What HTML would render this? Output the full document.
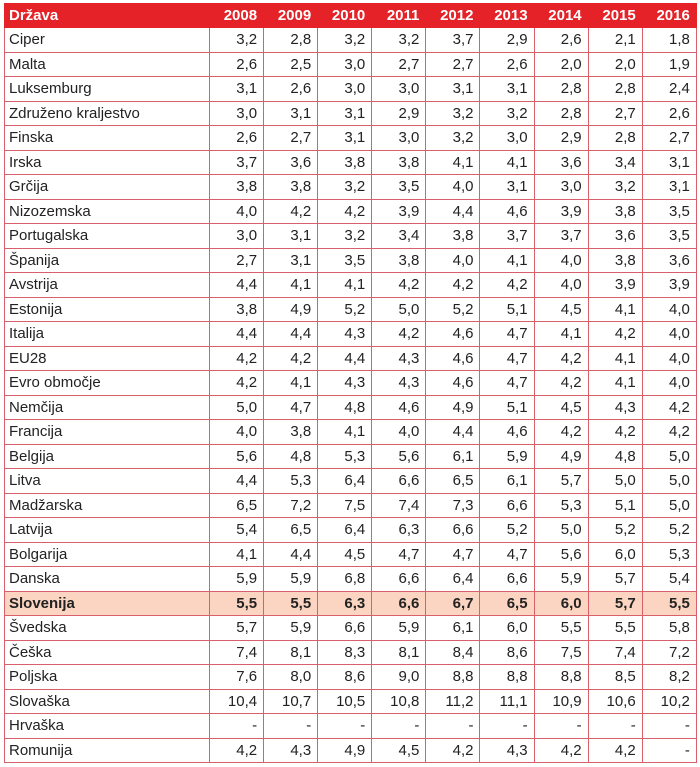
<!DOCTYPE html>
<html><head><meta charset="utf-8"><style>
html,body{margin:0;padding:0;background:#fff;width:700px;height:767px;overflow:hidden}
table{position:absolute;left:4px;top:3px;border-collapse:collapse;font-family:"Liberation Sans",sans-serif;font-size:15px;color:#222;table-layout:fixed;width:692px}
td,th{height:23.5px;padding:0 6px;border:1px solid #d8606a;text-align:right;white-space:nowrap;overflow:hidden}
td:first-child,th:first-child{text-align:left;padding-left:4px}
th{background:#e42228;color:#fff;font-weight:bold;border-color:#e42228;height:23px}
tr.s td{background:#fbd5c2;font-weight:bold}
</style></head><body>
<table>
<colgroup><col style="width:205px"><col span="9" style="width:54.1px"></colgroup>
<tr><th>Država</th><th>2008</th><th>2009</th><th>2010</th><th>2011</th><th>2012</th><th>2013</th><th>2014</th><th>2015</th><th>2016</th></tr>
<tr><td>Ciper</td><td>3,2</td><td>2,8</td><td>3,2</td><td>3,2</td><td>3,7</td><td>2,9</td><td>2,6</td><td>2,1</td><td>1,8</td></tr>
<tr><td>Malta</td><td>2,6</td><td>2,5</td><td>3,0</td><td>2,7</td><td>2,7</td><td>2,6</td><td>2,0</td><td>2,0</td><td>1,9</td></tr>
<tr><td>Luksemburg</td><td>3,1</td><td>2,6</td><td>3,0</td><td>3,0</td><td>3,1</td><td>3,1</td><td>2,8</td><td>2,8</td><td>2,4</td></tr>
<tr><td>Združeno kraljestvo</td><td>3,0</td><td>3,1</td><td>3,1</td><td>2,9</td><td>3,2</td><td>3,2</td><td>2,8</td><td>2,7</td><td>2,6</td></tr>
<tr><td>Finska</td><td>2,6</td><td>2,7</td><td>3,1</td><td>3,0</td><td>3,2</td><td>3,0</td><td>2,9</td><td>2,8</td><td>2,7</td></tr>
<tr><td>Irska</td><td>3,7</td><td>3,6</td><td>3,8</td><td>3,8</td><td>4,1</td><td>4,1</td><td>3,6</td><td>3,4</td><td>3,1</td></tr>
<tr><td>Grčija</td><td>3,8</td><td>3,8</td><td>3,2</td><td>3,5</td><td>4,0</td><td>3,1</td><td>3,0</td><td>3,2</td><td>3,1</td></tr>
<tr><td>Nizozemska</td><td>4,0</td><td>4,2</td><td>4,2</td><td>3,9</td><td>4,4</td><td>4,6</td><td>3,9</td><td>3,8</td><td>3,5</td></tr>
<tr><td>Portugalska</td><td>3,0</td><td>3,1</td><td>3,2</td><td>3,4</td><td>3,8</td><td>3,7</td><td>3,7</td><td>3,6</td><td>3,5</td></tr>
<tr><td>Španija</td><td>2,7</td><td>3,1</td><td>3,5</td><td>3,8</td><td>4,0</td><td>4,1</td><td>4,0</td><td>3,8</td><td>3,6</td></tr>
<tr><td>Avstrija</td><td>4,4</td><td>4,1</td><td>4,1</td><td>4,2</td><td>4,2</td><td>4,2</td><td>4,0</td><td>3,9</td><td>3,9</td></tr>
<tr><td>Estonija</td><td>3,8</td><td>4,9</td><td>5,2</td><td>5,0</td><td>5,2</td><td>5,1</td><td>4,5</td><td>4,1</td><td>4,0</td></tr>
<tr><td>Italija</td><td>4,4</td><td>4,4</td><td>4,3</td><td>4,2</td><td>4,6</td><td>4,7</td><td>4,1</td><td>4,2</td><td>4,0</td></tr>
<tr><td>EU28</td><td>4,2</td><td>4,2</td><td>4,4</td><td>4,3</td><td>4,6</td><td>4,7</td><td>4,2</td><td>4,1</td><td>4,0</td></tr>
<tr><td>Evro območje</td><td>4,2</td><td>4,1</td><td>4,3</td><td>4,3</td><td>4,6</td><td>4,7</td><td>4,2</td><td>4,1</td><td>4,0</td></tr>
<tr><td>Nemčija</td><td>5,0</td><td>4,7</td><td>4,8</td><td>4,6</td><td>4,9</td><td>5,1</td><td>4,5</td><td>4,3</td><td>4,2</td></tr>
<tr><td>Francija</td><td>4,0</td><td>3,8</td><td>4,1</td><td>4,0</td><td>4,4</td><td>4,6</td><td>4,2</td><td>4,2</td><td>4,2</td></tr>
<tr><td>Belgija</td><td>5,6</td><td>4,8</td><td>5,3</td><td>5,6</td><td>6,1</td><td>5,9</td><td>4,9</td><td>4,8</td><td>5,0</td></tr>
<tr><td>Litva</td><td>4,4</td><td>5,3</td><td>6,4</td><td>6,6</td><td>6,5</td><td>6,1</td><td>5,7</td><td>5,0</td><td>5,0</td></tr>
<tr><td>Madžarska</td><td>6,5</td><td>7,2</td><td>7,5</td><td>7,4</td><td>7,3</td><td>6,6</td><td>5,3</td><td>5,1</td><td>5,0</td></tr>
<tr><td>Latvija</td><td>5,4</td><td>6,5</td><td>6,4</td><td>6,3</td><td>6,6</td><td>5,2</td><td>5,0</td><td>5,2</td><td>5,2</td></tr>
<tr><td>Bolgarija</td><td>4,1</td><td>4,4</td><td>4,5</td><td>4,7</td><td>4,7</td><td>4,7</td><td>5,6</td><td>6,0</td><td>5,3</td></tr>
<tr><td>Danska</td><td>5,9</td><td>5,9</td><td>6,8</td><td>6,6</td><td>6,4</td><td>6,6</td><td>5,9</td><td>5,7</td><td>5,4</td></tr>
<tr class="s"><td>Slovenija</td><td>5,5</td><td>5,5</td><td>6,3</td><td>6,6</td><td>6,7</td><td>6,5</td><td>6,0</td><td>5,7</td><td>5,5</td></tr>
<tr><td>Švedska</td><td>5,7</td><td>5,9</td><td>6,6</td><td>5,9</td><td>6,1</td><td>6,0</td><td>5,5</td><td>5,5</td><td>5,8</td></tr>
<tr><td>Češka</td><td>7,4</td><td>8,1</td><td>8,3</td><td>8,1</td><td>8,4</td><td>8,6</td><td>7,5</td><td>7,4</td><td>7,2</td></tr>
<tr><td>Poljska</td><td>7,6</td><td>8,0</td><td>8,6</td><td>9,0</td><td>8,8</td><td>8,8</td><td>8,8</td><td>8,5</td><td>8,2</td></tr>
<tr><td>Slovaška</td><td>10,4</td><td>10,7</td><td>10,5</td><td>10,8</td><td>11,2</td><td>11,1</td><td>10,9</td><td>10,6</td><td>10,2</td></tr>
<tr><td>Hrvaška</td><td>-</td><td>-</td><td>-</td><td>-</td><td>-</td><td>-</td><td>-</td><td>-</td><td>-</td></tr>
<tr><td>Romunija</td><td>4,2</td><td>4,3</td><td>4,9</td><td>4,5</td><td>4,2</td><td>4,3</td><td>4,2</td><td>4,2</td><td>-</td></tr>
</table>
</body></html>
